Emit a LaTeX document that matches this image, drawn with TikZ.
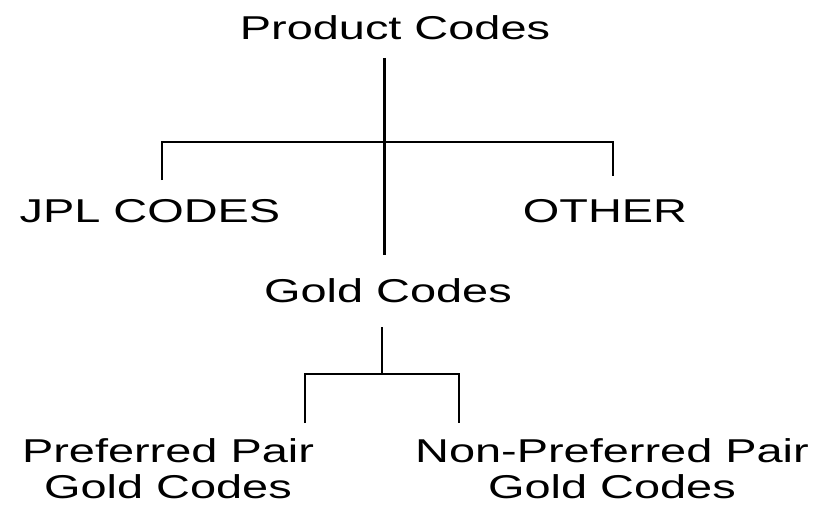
\documentclass[tikz,border=0pt]{standalone}
\usepackage{fontspec}
\setmainfont[FakeStretch=1.42]{Liberation Sans}
\usepackage{tikz}

\begin{document}
\begin{tikzpicture}[x=0.02cm,y=-0.02cm,
  lbl/.style={inner sep=0pt,anchor=base,font=\fontsize{18.8}{20.3}\selectfont},
  lbltwo/.style={lbl,align=center},
  trunk/.style={line width=1.7pt},
  branch/.style={line width=0.85pt}]
\useasboundingbox (0,0) rectangle (817,510);
\node[lbl] (prod) at (395,40) {Product Codes};
\node[lbl] (jpl) at (150,222) {JPL CODES};
\node[lbl] (other) at (605,222) {OTHER};
\node[lbl] (gold) at (388,302) {Gold Codes};
\node[lbltwo] (pref) at (168,498) {Preferred Pair\\Gold Codes};
\node[lbltwo] (nonpref) at (612,498) {Non-Preferred Pair\\Gold Codes};
% first level
\coordinate (pc) at (384,58);
\coordinate (gc) at (384,255);
\coordinate (split) at (384,142);
\coordinate (jplup) at (162,180);
\coordinate (otherup) at (613,176);
\draw[trunk] (pc) -- (gc);
\draw[branch] (jplup) |- (split) -| (otherup);
% gold codes
\coordinate (gd) at (382,327);
\coordinate (gsplit) at (382,374);
\coordinate (prefup) at (305,423);
\coordinate (nonup) at (459,423);
\draw[branch] (gd) -- (gsplit);
\draw[branch] (prefup) |- (gsplit) -| (nonup);
\end{tikzpicture}
\end{document}
